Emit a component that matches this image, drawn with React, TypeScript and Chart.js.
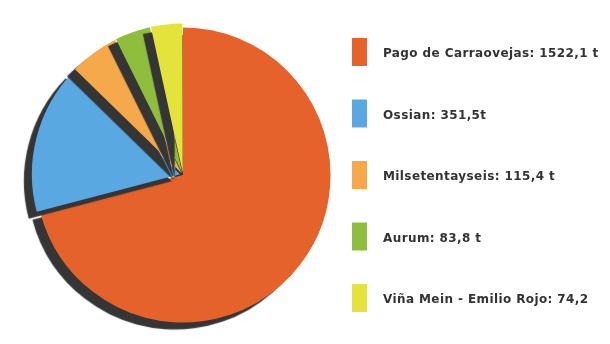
import { useEffect, useRef } from "react";
import { Chart, registerables } from "chart.js";

Chart.register(...registerables);

const labels = [
  "Pago de Carraovejas: 1522,1 t",
  "Ossian: 351,5t",
  "Milsetentayseis: 115,4 t",
  "Aurum: 83,8 t",
  "Viña Mein - Emilio Rojo: 74,2",
];
const values = [1522.1, 351.5, 115.4, 83.8, 74.2];
const colors = ["#E6622B", "#5AA8E2", "#F6A94A", "#8FBE3C", "#E3E33C"];
const offsets = [0, 13, 9, 9, 9];

const shadowPlugin = {
  id: "sliceShadow",
  beforeDatasetsDraw(chart: any) {
    const ctx = chart.ctx;
    ctx.save();
    ctx.shadowColor = "#353535";
    ctx.shadowOffsetX = -8;
    ctx.shadowOffsetY = 7;
    ctx.shadowBlur = 1;
  },
  afterDatasetsDraw(chart: any) {
    chart.ctx.restore();
  },
};

const sideLegend = {
  id: "sideLegend",
  afterDraw(chart: any) {
    const ctx = chart.ctx;
    const x0 = 352;
    const yStart = 52;
    const step = 61.5;
    ctx.save();
    ctx.font = "bold 12px 'DejaVu Sans', sans-serif";
    (ctx as any).letterSpacing = "0.4px";
    ctx.textBaseline = "middle";
    labels.forEach((lab, i) => {
      const cy = yStart + i * step;
      ctx.fillStyle = colors[i];
      ctx.fillRect(x0, cy - 14, 15, 28);
      ctx.fillStyle = "#333333";
      ctx.fillText(lab, x0 + 31, cy + 2);
    });
    ctx.restore();
  },
};

export default function App() {
  const ref = useRef<HTMLCanvasElement>(null);
  useEffect(() => {
    document.body.style.margin = "0";
    const chart = new Chart(ref.current!, {
      type: "pie",
      data: {
        labels,
        datasets: [
          {
            data: values,
            backgroundColor: colors,
            borderWidth: 0,
            offset: offsets,
          },
        ],
      },
      options: {
        animation: false,
        responsive: false,
        layout: { padding: { left: 29, right: 273, top: 20, bottom: 14 } },
        plugins: { legend: { display: false }, tooltip: { enabled: false } },
      },
      plugins: [shadowPlugin, sideLegend],
    });
    return () => chart.destroy();
  }, []);
  return (
    <div style={{ width: 610, height: 344, background: "#fff" }}>
      <canvas ref={ref} width={610} height={344} />
    </div>
  );
}
